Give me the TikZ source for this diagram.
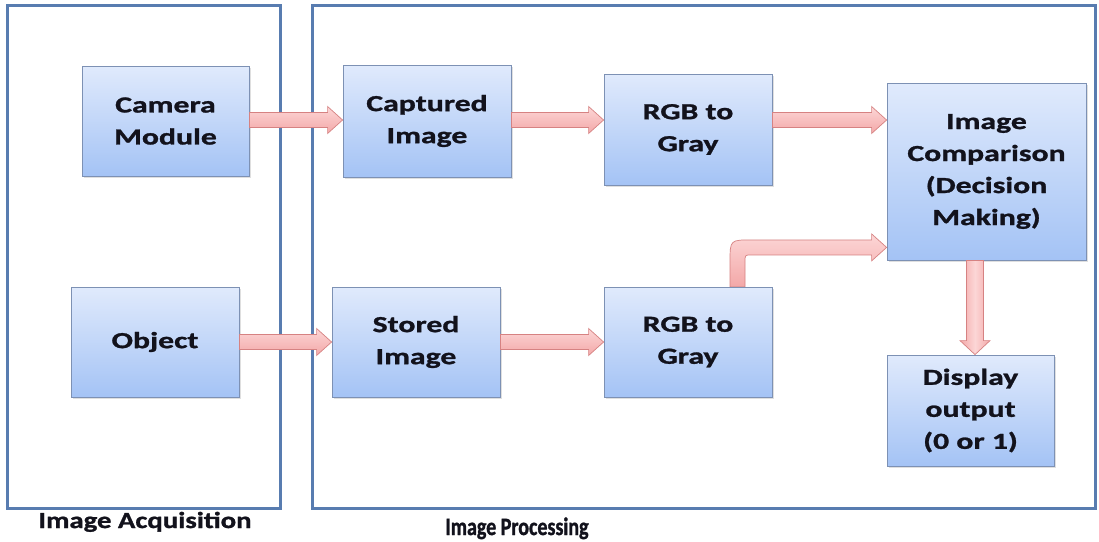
\documentclass[tikz,border=0pt]{standalone}
\usepackage{fontspec}
\setmainfont{Carlito}
\newfontfamily\boxfont{Carlito}[FakeStretch=1.38, FakeBold=1.2]
\newfontfamily\acqfont{Carlito}[FakeStretch=1.25, FakeBold=1.2]
\newfontfamily\procfont{Carlito}[FakeStretch=0.8, FakeBold=1.2]
\usetikzlibrary{calc,shadows}
\definecolor{frameblue}{RGB}{88,124,176}
\definecolor{boxtop}{RGB}{224,234,252}
\definecolor{boxbot}{RGB}{164,195,245}
\definecolor{boxline}{RGB}{125,145,180}
\definecolor{arrtop}{RGB}{252,214,214}
\definecolor{arrbot}{RGB}{243,168,168}
\definecolor{arrline}{RGB}{214,130,130}
\definecolor{txt}{RGB}{18,18,28}
\tikzset{
  blockbox/.style={draw=boxline, line width=0.8pt, shading=axis, top color=boxtop, bottom color=boxbot,
    align=center, text=txt, font=\boxfont\bfseries\fontsize{23}{32}\selectfont,
    inner sep=0pt, drop shadow={shadow xshift=1.5pt, shadow yshift=-1.5pt, opacity=0.25}},
  framebox/.style={draw=frameblue, line width=3pt},
  fatarrow/.style={draw=arrline, line width=0.7pt, shading=axis, top color=arrtop, bottom color=arrbot},
  fatarrowv/.style={draw=arrline, line width=0.7pt, shading=axis, left color=arrbot, right color=arrbot, middle color=arrtop},
  caption/.style={text=txt, inner sep=0pt}
}
\newcommand\hfat[3]{%
  \draw[fatarrow] let \p1=(#1.east), \p2=(#2.west), \p3=(#3) in
    (\x1,\y3+7.5pt) -- (\x2-15pt,\y3+7.5pt) -- (\x2-15pt,\y3+13.5pt) -- (\x2,\y3)
    -- (\x2-15pt,\y3-13.5pt) -- (\x2-15pt,\y3-7.5pt) -- (\x1,\y3-7.5pt) -- cycle;}
\begin{document}
\begin{tikzpicture}[x=1pt,y=-1pt]
\useasboundingbox (0,0) rectangle (1099,541);
\fill[white] (0,0) rectangle (1099,541);
% frames
\node[framebox, minimum width=273pt, minimum height=503pt, inner sep=0pt] (acq) at (143.5,256.5) {};
\node[framebox, minimum width=783pt, minimum height=503pt, inner sep=0pt] (proc) at (703.5,256.5) {};
\node[caption, font=\acqfont\bfseries\fontsize{23}{26}\selectfont, anchor=base] (acqlbl) at (145,528) {Image Acquisition};
\node[caption, font=\procfont\bfseries\fontsize{25}{28}\selectfont, anchor=base] (proclbl) at (517,535) {Image Processing};
% blocks
\node[blockbox, minimum width=167pt, minimum height=110pt] (cam) at (165.5,121) {Camera\\Module};
\node[blockbox, minimum width=168pt, minimum height=110pt] (obj) at (155,342) {Object};
\node[blockbox, minimum width=168pt, minimum height=112pt] (cap) at (427,121) {Captured\\Image};
\node[blockbox, minimum width=168pt, minimum height=111pt] (rgbA) at (688,129.5) {RGB to\\Gray};
\node[blockbox, minimum width=168pt, minimum height=110pt] (sto) at (416,342) {Stored\\Image};
\node[blockbox, minimum width=168pt, minimum height=110pt] (rgbB) at (688,342) {RGB to\\Gray};
\node[blockbox, minimum width=199pt, minimum height=177pt] (cmp) at (986.5,171.5) {Image\\Comparison\\(Decision\\Making)};
\node[blockbox, minimum width=167pt, minimum height=111pt] (disp) at (970.5,410.5) {Display\\output\\(0 or 1)};
% arrows
\coordinate (ytop) at (0,120);
\coordinate (ybot) at (0,342);
\hfat{cam}{cap}{ytop}
\hfat{cap}{rgbA}{ytop}
\hfat{rgbA}{cmp}{ytop}
\hfat{obj}{sto}{ybot}
\hfat{sto}{rgbB}{ybot}
% curved arrow rgbB -> cmp
\draw[fatarrow] let \p1=($(rgbB.north)+(49.5,0)$), \p2=($(cmp.south west)+(0,-13)$) in
  (\x1-7.5pt,\y1) -- (\x1-7.5pt,\y2-14.5pt)
  .. controls (\x1-7.5pt,\y2+7.5pt) .. (\x1+14.5pt,\y2+7.5pt)
  -- (\x2-15pt,\y2+7.5pt) -- (\x2-15pt,\y2+13.5pt) -- (\x2,\y2)
  -- (\x2-15pt,\y2-13.5pt) -- (\x2-15pt,\y2-7.5pt)
  -- (\x1+14.5pt,\y2-7.5pt) .. controls (\x1+7.5pt,\y2-7.5pt) .. (\x1+7.5pt,\y2-14.5pt)
  -- (\x1+7.5pt,\y1) -- cycle;
% down arrow cmp -> disp
\draw[fatarrowv] let \p1=($(cmp.south)+(-11.5,0)$), \p2=(disp.north) in
  (\x1-8.5pt,\y1) -- (\x1-8.5pt,\y2+14pt) -- (\x1-15pt,\y2+14pt) -- (\x1,\y2)
  -- (\x1+15pt,\y2+14pt) -- (\x1+8.5pt,\y2+14pt) -- (\x1+8.5pt,\y1) -- cycle;
\end{tikzpicture}
\end{document}
